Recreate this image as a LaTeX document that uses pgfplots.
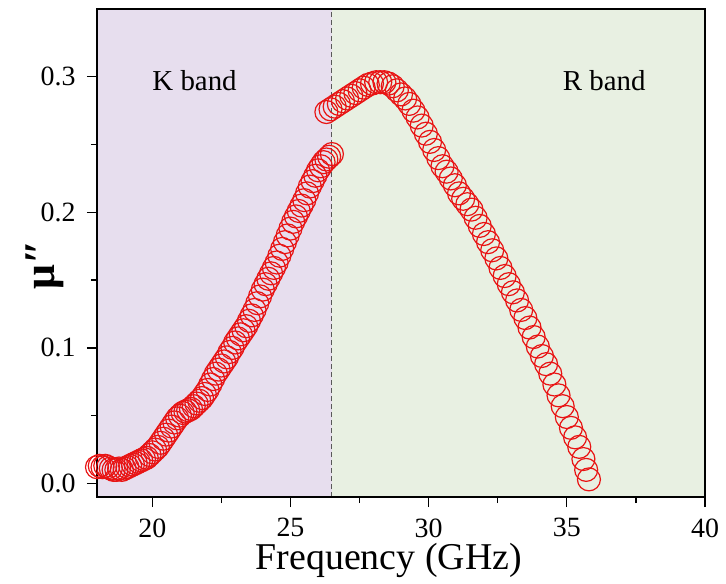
\documentclass[border=0pt]{standalone}
\usepackage{pgfplots}
\pgfplotsset{compat=1.18}
\usepackage{fontspec}
\setmainfont{Liberation Serif}
\definecolor{kbg}{RGB}{231,222,238}
\definecolor{rbg}{RGB}{232,240,226}
\definecolor{mred}{RGB}{232,20,20}

\pgfplotstableread{
f mu
18.0 0.012
18.1 0.013
18.2 0.012
18.3 0.013
18.4 0.012
18.5 0.011
18.6 0.010
18.7 0.010
18.8 0.011
18.9 0.010
19.0 0.011
19.1 0.012
19.2 0.013
19.3 0.014
19.4 0.015
19.5 0.016
19.6 0.017
19.7 0.018
19.8 0.019
19.9 0.021
20.0 0.023
20.1 0.025
20.2 0.027
20.3 0.030
20.4 0.033
20.5 0.036
20.6 0.039
20.7 0.042
20.8 0.045
20.9 0.048
21.0 0.050
21.1 0.052
21.2 0.053
21.3 0.054
21.4 0.055
21.5 0.057
21.6 0.059
21.7 0.061
21.8 0.063
21.9 0.066
22.0 0.069
22.1 0.073
22.2 0.077
22.3 0.081
22.4 0.084
22.5 0.087
22.6 0.090
22.7 0.093
22.8 0.097
22.9 0.100
23.0 0.104
23.1 0.107
23.2 0.110
23.3 0.113
23.4 0.116
23.5 0.120
23.6 0.124
23.7 0.128
23.8 0.133
23.9 0.138
24.0 0.143
24.1 0.147
24.2 0.151
24.3 0.155
24.4 0.159
24.5 0.163
24.6 0.168
24.7 0.173
24.8 0.178
24.9 0.183
25.0 0.188
25.1 0.193
25.2 0.197
25.3 0.201
25.4 0.205
25.5 0.209
25.6 0.214
25.7 0.219
25.8 0.223
25.9 0.227
26.0 0.231
26.1 0.234
26.2 0.237
26.3 0.239
26.4 0.241
26.5 0.243
}\kband

\pgfplotstableread{
f mu
26.30 0.274
26.45 0.276
26.60 0.278
26.75 0.280
26.90 0.282
27.05 0.284
27.20 0.286
27.35 0.288
27.50 0.290
27.65 0.292
27.80 0.294
27.95 0.295
28.10 0.296
28.25 0.296
28.40 0.296
28.55 0.295
28.70 0.293
28.85 0.290
29.00 0.287
29.15 0.284
29.30 0.280
29.45 0.275
29.60 0.270
29.75 0.264
29.90 0.258
30.05 0.252
30.20 0.246
30.35 0.240
30.50 0.234
30.65 0.230
30.80 0.225
30.95 0.220
31.10 0.214
31.25 0.210
31.40 0.206
31.55 0.202
31.70 0.196
31.85 0.190
32.00 0.184
32.15 0.178
32.30 0.172
32.45 0.166
32.60 0.159
32.75 0.153
32.90 0.147
33.05 0.141
33.20 0.135
33.35 0.128
33.50 0.122
33.65 0.115
33.80 0.108
33.95 0.101
34.10 0.094
34.25 0.088
34.40 0.081
34.55 0.073
34.70 0.065
34.85 0.057
35.00 0.049
35.15 0.041
35.30 0.034
35.45 0.027
35.60 0.018
35.70 0.010
35.80 0.003
}\rband

\begin{document}
\begin{tikzpicture}
\begin{axis}[scale only axis, width=608bp, height=488bp,
  xmin=18, xmax=40, ymin=-0.01, ymax=0.35,
  xtick={20,25,30,35,40}, ytick={0,0.1,0.2,0.3},
  minor x tick num=1, minor y tick num=1,
  xtick pos=bottom, ytick pos=left, tick align=outside,
  major tick length=10bp, minor tick length=6bp,
  every tick/.style={line width=1.3bp, black},
  axis line style={line width=1.5bp},
  axis on top,
  /pgf/number format/assume math mode=true,
  yticklabel style={/pgf/number format/fixed, /pgf/number format/fixed zerofill, /pgf/number format/precision=1, xshift=-8bp},
  xticklabel style={yshift=-8bp},
  tick label style={font=\fontsize{28}{30}\selectfont},
  xlabel={Frequency (GHz)},
  xlabel style={font=\fontsize{38}{40}\selectfont, at={(axis description cs:0.48,-0.1495)}, anchor=base},
  ylabel={\bfseries μ″},
  ylabel style={font=\fontsize{44}{46}\selectfont, at={(axis description cs:-0.0855,0.475)}, anchor=center},
]
\fill[kbg] (axis cs:18,-0.01) rectangle (axis cs:26.5,0.35);
\fill[rbg] (axis cs:26.5,-0.01) rectangle (axis cs:40,0.35);
\draw[line width=1bp, color=black!65, dash pattern=on 5bp off 3bp] (axis cs:26.5,-0.01) -- (axis cs:26.5,0.35);
\addplot[only marks, mark=o, mark size=11.5bp, mark options={draw=mred, line width=1.2bp}] table[x=f, y=mu] {\kband};
\addplot[only marks, mark=o, mark size=11.5bp, mark options={draw=mred, line width=1.2bp}] table[x=f, y=mu] {\rband};
\node[anchor=base west, inner sep=0pt, font=\fontsize{29}{30}\selectfont] at (axis cs:20.0,0.2897) {K band};
\node[anchor=base west, inner sep=0pt, font=\fontsize{29}{30}\selectfont] at (axis cs:34.85,0.2897) {R band};
\coordinate (bl) at (rel axis cs:0,0);
\coordinate (tr) at (rel axis cs:1,1);
\end{axis}
\pgfresetboundingbox
\path[use as bounding box] ([shift={(-97bp,-87bp)}]bl) rectangle ([shift={(21bp,9bp)}]tr);
\end{tikzpicture}
\end{document}
